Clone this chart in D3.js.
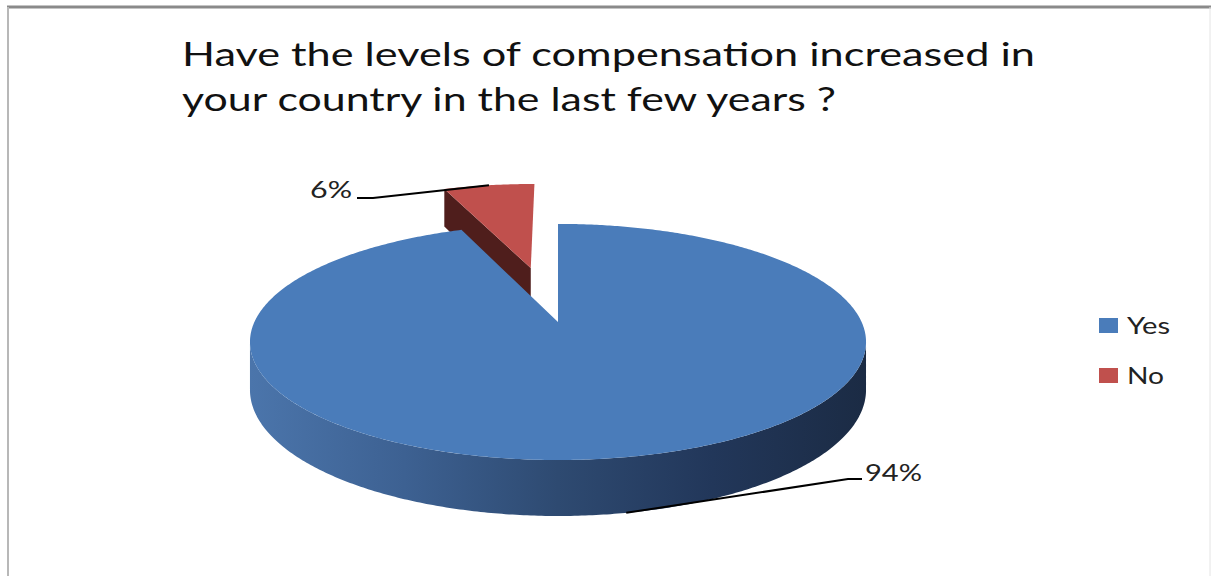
<!DOCTYPE html>
<html>
<head>
<meta charset="utf-8">
<script src="https://cdn.jsdelivr.net/npm/d3@7"></script>
<style>
  html, body { margin: 0; padding: 0; background: #fff; }
  svg { display: block; }
</style>
</head>
<body>
<svg id="chart" width="1211" height="576"></svg>
<script>
// ---- data ----
const categories = ["Yes", "No"];
const values = [94, 6];
const valueLabels = ["94%", "6%"];
const titleLines = [
  "Have the levels of compensation increased in",
  "your country in the last few years ?"
];

// ---- styles ----
const topColors = ["#4a7cba", "#c0504d"];
const wallColors = ["#2e4a70", "#4f1e1c"];
const font = "Lato, 'Open Sans', sans-serif";

const svg = d3.select("#chart");
const W = 1211, H = 576;

// chart frame
svg.append("line").attr("x1", 7).attr("x2", W).attr("y1", 7).attr("y2", 7)
  .attr("stroke", "#8a8a8a").attr("stroke-width", 3);
svg.append("line").attr("x1", 8).attr("x2", 8).attr("y1", 7).attr("y2", H)
  .attr("stroke", "#b8b8b8").attr("stroke-width", 2);
svg.append("line").attr("x1", W - 1).attr("x2", W - 1).attr("y1", 7).attr("y2", H)
  .attr("stroke", "#e4e4e4").attr("stroke-width", 1);

// title
const titleW = [853, 654];
svg.append("g").selectAll("text").data(titleLines).join("text")
  .attr("x", 182)
  .attr("y", (d, i) => 66 + i * 45)
  .attr("font-family", font)
  .attr("font-size", 32)
  .attr("fill", "#111")
  .attr("textLength", (d, i) => titleW[i])
  .attr("lengthAdjust", "spacingAndGlyphs")
  .text(d => d);

// ---- 3D pie projection ----
// unit circle in the pie plane, angle clockwise from 12 o'clock;
// z = -1 is the far side, z = +1 the near side.
const P = { cx: 558, cy: 322, A: 303.6, B: 114.7, c: -0.169, T: 46.5 };
function project(x, z, h) {
  const den = 1 + P.c * z;
  return [P.cx + P.A * x / den, P.cy + (P.B * z + h * P.T) / den];
}
function rimPoint(a, r, off, h) {
  return project(off[0] + r * Math.sin(a), off[1] - r * Math.cos(a), h);
}

const explode = [0, 0.52];
const arcs = d3.pie().sort(null).value(d => d)(values);
arcs.forEach((d, i) => {
  const mid = (d.startAngle + d.endAngle) / 2;
  d.off = [explode[i] * Math.sin(mid), -explode[i] * Math.cos(mid)];
  d.mid = mid;
});

const line = d3.line();
function sampleRim(a0, a1, off, h) {
  const n = Math.max(2, Math.ceil(Math.abs(a1 - a0) / 0.01));
  return d3.range(n + 1).map(k => rimPoint(a0 + (a1 - a0) * k / n, 1, off, h));
}

// gradient for the curved outer wall
const defs = svg.append("defs");
const grad = defs.append("linearGradient").attr("id", "wallGrad")
  .attr("gradientUnits", "userSpaceOnUse")
  .attr("x1", 250).attr("x2", 866).attr("y1", 0).attr("y2", 0);
[[0, "#4b75ab"], [0.25, "#3d6192"], [0.5, "#2e4a71"], [0.75, "#22375a"], [1, "#1b2b44"]]
  .forEach(([o, c]) => grad.append("stop").attr("offset", o).attr("stop-color", c));

const pieG = svg.append("g");
const silA = Math.acos(P.c); // angle where the rim turns into the silhouette

function drawSlice(d, i) {
  const g = pieG.append("g");
  const a0 = d.startAngle, a1 = d.endAngle, off = d.off;
  const apexTop = project(off[0], off[1], 0);
  const apexBot = project(off[0], off[1], 1);
  // radial walls facing the viewer (normal points away from the slice interior)
  [a0, a1].forEach((a, k) => {
    const nz = k === 0 ? -Math.sin(a) : Math.sin(a);
    if (nz > 0.01) {
      const rt = rimPoint(a, 1, off, 0), rb = rimPoint(a, 1, off, 1);
      g.append("path").attr("d", line([apexTop, rt, rb, apexBot]) + "Z")
        .attr("fill", wallColors[i]);
    }
  });
  // curved outer wall on the near side
  const s0 = Math.max(a0, silA), s1 = Math.min(a1, 2 * Math.PI - silA);
  if (s1 > s0) {
    const pts = sampleRim(s0, s1, off, 0).concat(sampleRim(s1, s0, off, 1));
    g.append("path").attr("d", line(pts) + "Z")
      .attr("fill", i === 0 ? "url(#wallGrad)" : wallColors[i]);
  }
  // top face
  const topPts = [apexTop].concat(sampleRim(a0, a1, off, 0));
  g.append("path").attr("d", line(topPts) + "Z").attr("fill", topColors[i]);
}
// far slice first so the near slice covers it
drawSlice(arcs[1], 1);
drawSlice(arcs[0], 0);

// ---- data labels with leader lines ----
const labelPos = [
  { tx: 865, ty: 481, elbow: [[848, 479], [862, 479]], anchor: "start", w: 57, h: 1 },
  { tx: 352, ty: 198, elbow: [[373, 198], [357, 198]], anchor: "end", w: 42, h: 0 }
];
arcs.forEach((d, i) => {
  const lp = labelPos[i];
  const end = rimPoint(d.mid, 1, d.off, lp.h);
  svg.append("path")
    .attr("d", line([end].concat(lp.elbow)))
    .attr("fill", "none").attr("stroke", "#000").attr("stroke-width", 2);
  svg.append("text")
    .attr("x", lp.tx).attr("y", lp.ty)
    .attr("text-anchor", lp.anchor)
    .attr("font-family", font).attr("font-size", 23).attr("fill", "#222")
    .attr("textLength", lp.w).attr("lengthAdjust", "spacingAndGlyphs")
    .text(valueLabels[i]);
});

// ---- legend ----
const legend = svg.append("g").selectAll("g").data(categories).join("g")
  .attr("transform", (d, i) => `translate(1099, ${318 + i * 50})`);
legend.append("rect").attr("width", 19).attr("height", 15)
  .attr("fill", (d, i) => topColors[i]);
legend.append("text")
  .attr("x", 28).attr("y", 16)
  .attr("font-family", font).attr("font-size", 23).attr("fill", "#222")
  .attr("textLength", (d, i) => i === 0 ? 43 : 37)
  .attr("lengthAdjust", "spacingAndGlyphs")
  .text(d => d);
</script>
</body>
</html>
